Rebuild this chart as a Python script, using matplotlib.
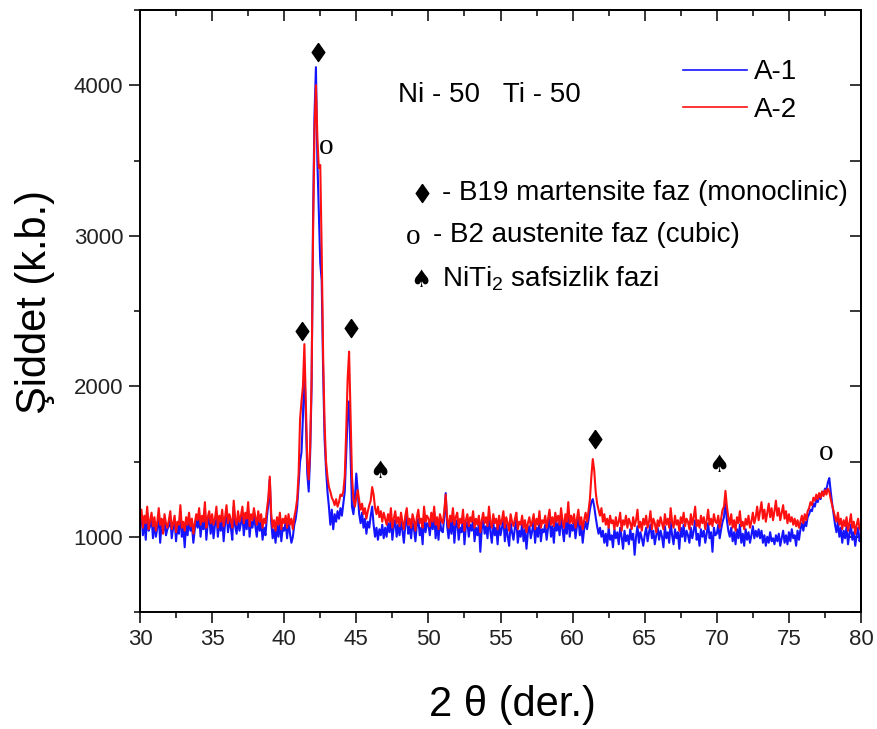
import numpy as np
import matplotlib
matplotlib.use("Agg")
import matplotlib.pyplot as plt
from matplotlib.ticker import MultipleLocator, NullFormatter

plt.rcParams['font.family'] = ['Liberation Sans', 'DejaVu Sans']
plt.rcParams['mathtext.default'] = 'regular'

# scan grid: 2-theta from 30 to 80 deg, 0.1 deg step
two_theta = np.linspace(30, 80, 501)

# A-1 intensities (counts), one list per 10 degrees
a1_30_40 = [1080, 1150, 1010, 1100, 980, 1160, 1040, 1070, 1130, 990,
            1100, 1000, 1060, 1140, 960, 1090, 1030, 1120, 1010, 1050,
            1070, 1130, 990, 1060, 1110, 970, 1080, 1020, 1170, 1000,
            1060, 930, 1090, 1010, 1120, 1040, 1080, 960, 1050, 1110,
            1060, 1140, 1000, 1100, 1050, 1190, 980, 1090, 1140, 1020,
            1110, 990, 1080, 1150, 1000, 1100, 1040, 1130, 970, 1090,
            1170, 1030, 1110, 1060, 980, 1200, 1070, 1020, 1120, 1040,
            1090, 1150, 1010, 1120, 1050, 1180, 1000, 1100, 1060, 1140,
            1070, 1000, 1120, 1040, 1100, 980, 1060, 1010, 1130, 1220,
            1380, 1100, 990, 1050, 960, 1080, 1000, 1110, 970, 1060]
a1_40_50 = [1040, 1100, 990, 1110, 1020, 960, 1000, 1080, 1120, 1200,
            1350, 1500, 1560, 1800, 2150, 1800, 1420, 1300, 1550, 2000,
            3100, 3800, 4120, 3500, 3150, 2820, 2700, 2100, 1650, 1450,
            1300, 1200, 1080, 1180, 1050, 1150, 1100, 1170, 1120, 1190,
            1140, 1220, 1300, 1550, 1800, 1900, 1550, 1200, 1150, 1250,
            1420, 1300, 1150, 1090, 1160, 1060, 1120, 1020, 1100, 1060,
            1140, 1200, 1080, 1000, 1060, 980, 1050, 1010, 1080, 990,
            1060, 1000, 1090, 1030, 1130, 980, 1070, 1110, 1000, 1080,
            1010, 1100, 1040, 960, 1080, 1140, 1020, 1070, 990, 1100,
            1050, 970, 1080, 1120, 1010, 1060, 950, 1140, 1030, 1090]
a1_50_60 = [1080, 1010, 1120, 1050, 1160, 990, 1090, 980, 1110, 1040,
            1030, 1130, 1290, 1070, 990, 1100, 1020, 1150, 960, 1080,
            1110, 980, 1060, 1030, 1140, 950, 1070, 1100, 1000, 1080,
            1040, 1120, 970, 1060, 1010, 1090, 900, 1050, 1110, 1020,
            1070, 990, 1150, 1030, 960, 1100, 1010, 1060, 950, 1090,
            1010, 1060, 1120, 970, 1080, 1000, 940, 1090, 1030, 980,
            1060, 1110, 960, 1040, 1000, 1090, 970, 1050, 920, 1030,
            1070, 990, 1040, 1100, 960, 1060, 1000, 1120, 970, 1050,
            1030, 1080, 980, 1060, 1130, 1000, 1070, 960, 1100, 1040,
            1090, 1010, 1140, 1050, 970, 1100, 1020, 1170, 1000, 1080]
a1_60_70 = [1040, 1100, 990, 1070, 1130, 1010, 1080, 960, 1050, 1100,
            1050, 1110, 1180, 1230, 1250, 1200, 1130, 1070, 1020, 1060,
            1000, 1040, 960, 1020, 940, 1060, 980, 1010, 930, 1050,
            990, 1030, 950, 1060, 1000, 920, 1040, 970, 1010, 950,
            1050, 980, 1020, 880, 1000, 1070, 960, 1030, 990, 940,
            1010, 1060, 970, 1030, 1080, 990, 1040, 950, 1010, 1060,
            980, 1040, 1000, 930, 1070, 990, 1030, 960, 1100, 1010,
            950, 1050, 990, 1030, 920, 1060, 1000, 1080, 970, 1040,
            1010, 960, 1060, 990, 1040, 1110, 980, 1020, 940, 1050,
            1000, 1040, 960, 1020, 1090, 990, 1030, 900, 1060, 1010]
a1_70_80 = [1020, 1080, 990, 1050, 1100, 1130, 1250, 1110, 1040, 1000,
            1060, 970, 1030, 950, 1050, 990, 1080, 960, 1020, 940,
            1050, 980, 1030, 960, 1010, 1070, 990, 1040, 1000, 1050,
            990, 1040, 960, 1010, 940, 1000, 960, 1030, 970, 990,
            950, 1010, 970, 1020, 940, 990, 1040, 960, 1010, 950,
            1030, 970, 1050, 990, 1010, 940, 1040, 980, 1050, 1090,
            1040, 1100, 1070, 1130, 1150, 1180, 1170, 1220, 1200, 1250,
            1230, 1270, 1250, 1300, 1280, 1320, 1310, 1360, 1390, 1300,
            1220, 1150, 1080, 1030, 1100, 1000, 1060, 960, 1040, 990,
            1070, 950, 1020, 1080, 980, 1030, 940, 1010, 1060, 970,
            1000]

# A-2 intensities (counts)
a2_30_40 = [1120, 1180, 1060, 1140, 1090, 1200, 1050, 1110, 1160, 1070,
            1130, 1040, 1100, 1190, 1080, 1120, 1020, 1150, 1090, 1060,
            1110, 1170, 1050, 1090, 1140, 1030, 1100, 1080, 1210, 1060,
            1100, 1040, 1130, 1080, 1160, 1070, 1120, 1020, 1090, 1150,
            1110, 1190, 1080, 1140, 1100, 1230, 1060, 1130, 1170, 1090,
            1150, 1080, 1120, 1200, 1060, 1140, 1100, 1180, 1070, 1130,
            1210, 1090, 1150, 1110, 1060, 1240, 1120, 1080, 1170, 1100,
            1140, 1200, 1090, 1160, 1120, 1230, 1070, 1150, 1110, 1190,
            1130, 1080, 1170, 1100, 1150, 1060, 1120, 1090, 1180, 1260,
            1400, 1150, 1060, 1110, 1040, 1130, 1080, 1160, 1050, 1120]
a2_40_50 = [1090, 1140, 1060, 1150, 1080, 1120, 1050, 1130, 1180, 1250,
            1420, 1780, 1900, 2000, 2280, 1900, 1500, 1380, 1600, 2050,
            3000, 3700, 4000, 3650, 3450, 3470, 2900, 2200, 1750, 1500,
            1400, 1330, 1300, 1260, 1240, 1210, 1250, 1200, 1230, 1280,
            1270, 1300, 1400, 1700, 2050, 2230, 1800, 1400, 1250, 1200,
            1260, 1310, 1240, 1180, 1220, 1150, 1190, 1120, 1170, 1210,
            1240, 1330, 1280, 1190, 1150, 1200, 1130, 1170, 1100, 1160,
            1120, 1080, 1150, 1100, 1190, 1060, 1120, 1170, 1090, 1130,
            1070, 1160, 1100, 1050, 1140, 1190, 1080, 1120, 1060, 1150,
            1110, 1040, 1130, 1180, 1090, 1120, 1060, 1200, 1100, 1140]
a2_50_60 = [1120, 1070, 1160, 1100, 1200, 1080, 1130, 1050, 1150, 1110,
            1090, 1170, 1280, 1120, 1060, 1140, 1100, 1190, 1080, 1130,
            1160, 1060, 1120, 1090, 1180, 1040, 1110, 1150, 1070, 1130,
            1100, 1170, 1060, 1120, 1080, 1140, 1030, 1110, 1160, 1090,
            1130, 1070, 1200, 1100, 1060, 1150, 1090, 1120, 1050, 1140,
            1080, 1110, 1170, 1060, 1130, 1090, 1040, 1150, 1100, 1070,
            1120, 1160, 1050, 1100, 1080, 1140, 1060, 1110, 1030, 1090,
            1130, 1070, 1100, 1150, 1050, 1120, 1080, 1170, 1060, 1110,
            1090, 1140, 1060, 1120, 1180, 1080, 1130, 1070, 1160, 1100,
            1140, 1080, 1190, 1110, 1060, 1150, 1100, 1230, 1090, 1140]
a2_60_70 = [1090, 1150, 1060, 1120, 1180, 1080, 1130, 1050, 1110, 1160,
            1100, 1170, 1250, 1400, 1516, 1440, 1300, 1220, 1180, 1140,
            1190, 1100, 1150, 1080, 1120, 1060, 1140, 1090, 1110, 1050,
            1130, 1070, 1100, 1160, 1040, 1110, 1080, 1140, 1060, 1120,
            1090, 1050, 1130, 1070, 1110, 1180, 1060, 1100, 1040, 1120,
            1080, 1140, 1060, 1100, 1170, 1050, 1120, 1090, 1030, 1110,
            1070, 1130, 1090, 1050, 1150, 1080, 1120, 1060, 1190, 1100,
            1060, 1140, 1080, 1110, 1040, 1130, 1090, 1160, 1070, 1120,
            1100, 1050, 1150, 1080, 1130, 1200, 1070, 1110, 1060, 1140,
            1090, 1130, 1050, 1110, 1180, 1080, 1120, 1070, 1150, 1100]
a2_70_80 = [1090, 1140, 1060, 1120, 1180, 1200, 1305, 1200, 1130, 1080,
            1150, 1060, 1110, 1040, 1130, 1090, 1170, 1070, 1100, 1050,
            1120, 1080, 1140, 1060, 1100, 1160, 1090, 1130, 1200, 1110,
            1170, 1230, 1120, 1180, 1100, 1160, 1220, 1130, 1190, 1110,
            1170, 1240, 1140, 1190, 1110, 1160, 1210, 1120, 1170, 1090,
            1150, 1100, 1130, 1080, 1120, 1070, 1110, 1060, 1100, 1140,
            1090, 1150, 1110, 1170, 1190, 1230, 1210, 1260, 1240, 1280,
            1250, 1290, 1260, 1300, 1270, 1310, 1280, 1320, 1300, 1250,
            1210, 1170, 1130, 1100, 1160, 1080, 1120, 1050, 1110, 1070,
            1130, 1040, 1090, 1150, 1060, 1100, 1020, 1080, 1120, 1050,
            1080]

a1 = np.concatenate([a1_30_40, a1_40_50, a1_50_60, a1_60_70, a1_70_80])
a2 = np.concatenate([a2_30_40, a2_40_50, a2_50_60, a2_60_70, a2_70_80])

# phase labels over the peaks (2-theta, label height)
b19_pos = [41.24, 42.35, 44.63, 61.55]
b19_y = [2370, 4220, 2384, 1650]
b2_pos = [42.9, 77.57]
b2_y = [3590, 1555]
niti2_pos = [46.64, 70.15]
niti2_y = [1440, 1480]

diamond = [(0, 1), (0.7, 0), (0, -1), (-0.7, 0), (0, 1)]

fig = plt.figure(figsize=(8.78, 7.29), dpi=100)
ax = fig.add_axes([140 / 878, 117 / 729, 721 / 878, 602 / 729])

ax.plot(two_theta, a1, color='#1414ff', lw=1.5, label='A-1')
ax.plot(two_theta, a2, color='#ff1010', lw=1.5, label='A-2')

ax.set_xlim(30, 80)
ax.set_ylim(500, 4500)
ax.xaxis.set_major_locator(MultipleLocator(5))
ax.xaxis.set_minor_locator(MultipleLocator(2.5))
ax.yaxis.set_major_locator(MultipleLocator(1000))
ax.yaxis.set_minor_locator(MultipleLocator(500))
ax.tick_params(which='major', direction='out', length=8, width=1.1,
               labelsize=16, pad=4, labelcolor='#222222')
ax.tick_params(which='minor', direction='out', length=4.5, width=1.1)
for sp in ax.spines.values():
    sp.set_linewidth(1.4)

# inward ticks on the top and right frame
top = ax.secondary_xaxis('top')
top.xaxis.set_major_locator(MultipleLocator(5))
top.xaxis.set_minor_locator(MultipleLocator(2.5))
top.xaxis.set_major_formatter(NullFormatter())
top.tick_params(which='major', direction='in', length=8, width=1.1)
top.tick_params(which='minor', direction='in', length=4.5, width=1.1)
right = ax.secondary_yaxis('right')
right.yaxis.set_major_locator(MultipleLocator(1000))
right.yaxis.set_minor_locator(MultipleLocator(500))
right.yaxis.set_major_formatter(NullFormatter())
right.tick_params(which='major', direction='in', length=8, width=1.1)
right.tick_params(which='minor', direction='in', length=8, width=1.1)
for sec in (top, right):
    for sp in sec.spines.values():
        sp.set_linewidth(1.4)

# peak markers
ax.plot(b19_pos, b19_y, ls='none', marker=diamond, ms=13, color='black')
for x, y in zip(b2_pos, b2_y):
    ax.text(x, y, 'o', family='Liberation Serif', fontsize=21,
            ha='center', va='center')
for x, y in zip(niti2_pos, niti2_y):
    ax.text(x, y, '\u2660', family='DejaVu Sans', fontsize=17,
            ha='center', va='center')

# composition and phase key
ax.text(0.358, 0.847, 'Ni - 50   Ti - 50', transform=ax.transAxes,
        fontsize=20, va='baseline')
ax.plot([0.391], [0.696], marker=diamond, ms=13, color='black',
        transform=ax.transAxes, clip_on=False)
ax.text(0.419, 0.684, '- B19 martensite faz (monoclinic)',
        transform=ax.transAxes, fontsize=20, va='baseline')
ax.text(0.379, 0.623, 'o', family='Liberation Serif', fontsize=21,
        transform=ax.transAxes, ha='center', va='center')
ax.text(0.406, 0.615, '- B2 austenite faz (cubic)',
        transform=ax.transAxes, fontsize=20, va='baseline')
ax.text(0.390, 0.551, '\u2660', family='DejaVu Sans', fontsize=17,
        transform=ax.transAxes, ha='center', va='center')
ax.text(0.419, 0.5415, 'NiTi$_2$ safsizlik fazi',
        transform=ax.transAxes, fontsize=20, va='baseline')

leg = ax.legend(loc='upper left', bbox_to_anchor=(0.753, 0.918),
                frameon=False, fontsize=20, handlelength=2.3,
                handletextpad=0.25, labelspacing=0.42, borderpad=0,
                borderaxespad=0)
for line in leg.get_lines():
    line.set_linewidth(1.2)

fig.text(35 / 878, 1 - 302 / 729, 'Şiddet (k.b.)', rotation=90,
         fontsize=30, ha='center', va='center')
fig.text(512 / 878, 1 - 705 / 729, '2 θ (der.)', fontsize=30,
         ha='center', va='center')

fig.savefig('out.png', dpi=100)
